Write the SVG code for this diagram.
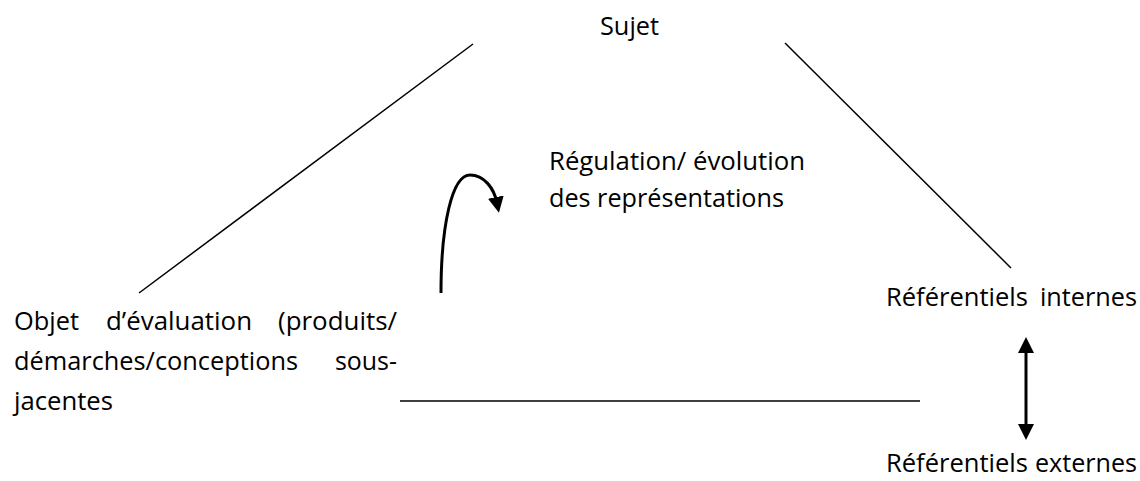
<svg xmlns="http://www.w3.org/2000/svg" width="1140" height="481" viewBox="0 0 1140 481">
  <style>
    text { font-family: "Open Sans", "Noto Sans", "Liberation Sans", sans-serif; font-size: 25.5px; fill: #000; }
    .edge { stroke: #000; stroke-width: 1.5; fill: none; }
    .arrow { stroke: #000; stroke-width: 3; fill: none; }
  </style>
  <defs>
    <marker id="head" viewBox="0 0 16 16" refX="6" refY="8" markerWidth="16" markerHeight="16" markerUnits="userSpaceOnUse" orient="auto-start-reverse">
      <path d="M0,0 L16,8 L0,16 z" fill="#000"/>
    </marker>
  </defs>

  <rect width="1140" height="481" fill="#fff"/>

  <!-- triangle sides and arrows -->
  <g id="connectors">
    <line class="edge" x1="473" y1="44" x2="139" y2="293"/>
    <line class="edge" x1="785" y1="43" x2="1011" y2="268"/>
    <line class="edge" x1="400" y1="401" x2="920" y2="401"/>
    <path class="arrow" d="M441,293 C441,225 452,175 470,175 C484,175 494,188 497,203" marker-end="url(#head)"/>
    <line class="arrow" x1="1026" y1="347" x2="1026" y2="430" marker-start="url(#head)" marker-end="url(#head)"/>
  </g>

  <g id="sujet">
    <text x="600" y="35" textLength="59" lengthAdjust="spacingAndGlyphs">Sujet</text>
  </g>

  <g id="regulation">
    <text x="549" y="170" textLength="256" lengthAdjust="spacingAndGlyphs">Régulation/ évolution</text>
    <text x="549" y="207" textLength="235" lengthAdjust="spacingAndGlyphs">des représentations</text>
  </g>

  <g id="objet">
    <text x="14" y="330" textLength="65" lengthAdjust="spacingAndGlyphs">Objet</text>
    <text x="106" y="330" textLength="146" lengthAdjust="spacingAndGlyphs">d’évaluation</text>
    <text x="278" y="330" textLength="119" lengthAdjust="spacingAndGlyphs">(produits/</text>
    <text x="14" y="370" textLength="284" lengthAdjust="spacingAndGlyphs">démarches/conceptions</text>
    <text x="335" y="370" textLength="62" lengthAdjust="spacingAndGlyphs">sous-</text>
    <text x="14" y="410" textLength="99" lengthAdjust="spacingAndGlyphs">jacentes</text>
  </g>

  <g id="referentiels-internes">
    <text x="886" y="306" textLength="142" lengthAdjust="spacingAndGlyphs">Référentiels</text>
    <text x="1040" y="306" textLength="97" lengthAdjust="spacingAndGlyphs">internes</text>
  </g>

  <g id="referentiels-externes">
    <text x="886" y="472" textLength="142" lengthAdjust="spacingAndGlyphs">Référentiels</text>
    <text x="1035" y="472" textLength="102" lengthAdjust="spacingAndGlyphs">externes</text>
  </g>
</svg>
